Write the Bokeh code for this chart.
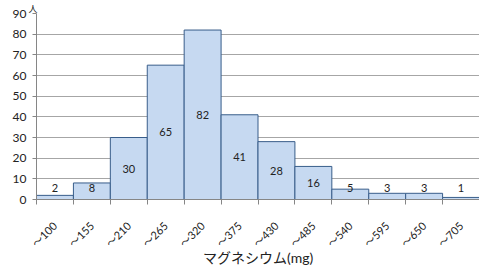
from bokeh.plotting import figure
from bokeh.models import FixedTicker, ColumnDataSource
from bokeh.core.properties import value
from bokeh.embed import file_html
from bokeh.resources import INLINE
import math

categories = ["～100", "～155", "～210", "～265", "～320", "～375", "～430", "～485", "～540", "～595", "～650", "～705"]
counts = [2, 8, 30, 65, 82, 41, 28, 16, 5, 3, 3, 1]
y_ticks = [0, 10, 20, 30, 40, 50, 60, 70, 80, 90]

FONT = "Lato, 'Noto Sans CJK JP'"

n = len(categories)
left = list(range(n))
right = [i + 1 for i in range(n)]
centers = [i + 0.5 for i in range(n)]
label_y = [max(v / 2.0, 5.5) for v in counts]

src = ColumnDataSource(dict(left=left, right=right, top=counts, bottom=[0] * n,
                            cx=centers, ly=label_y, txt=[str(v) for v in counts]))

p = figure(width=479, height=274, output_backend="svg", toolbar_location=None,
           x_range=(0, n), y_range=(0, 90), title="人",
           min_border_left=36, min_border_right=0, min_border_top=0, min_border_bottom=75)
p.outline_line_color = None
p.background_fill_color = "white"

p.title.align = "left"
p.title.offset = -8
p.title.standoff = 0
p.title.text_font = FONT
p.title.text_font_size = "9px"
p.title.text_font_style = "normal"
p.title.text_color = "#222222"

p.quad(left="left", right="right", top="top", bottom="bottom", source=src,
       fill_color="#c6d9f1", line_color="#385d8a", line_width=1)
p.text(x="cx", y="ly", text="txt", source=src, text_align="center", text_baseline="middle",
       text_font=value(FONT), text_font_size="11px", text_color="#222222")

# grid
p.xgrid.visible = False
p.ygrid.ticker = FixedTicker(ticks=y_ticks[1:])
p.ygrid.grid_line_color = "#a6a6a6"
p.ygrid.grid_line_width = 1

# y axis
p.yaxis.ticker = FixedTicker(ticks=y_ticks)
p.yaxis.axis_line_color = "#868686"
p.yaxis.major_tick_line_color = "#868686"
p.yaxis.major_tick_out = 4
p.yaxis.major_tick_in = 0
p.yaxis.minor_tick_line_color = None
p.yaxis.major_label_text_font = FONT
p.yaxis.major_label_text_font_size = "12px"
p.yaxis.major_label_text_color = "#222222"
p.yaxis.major_label_standoff = 6

# x axis
p.xaxis.ticker = FixedTicker(ticks=centers, minor_ticks=list(range(n + 1)))
p.xaxis.major_label_overrides = {c: lab for c, lab in zip(centers, categories)}
p.xaxis.major_tick_line_color = None
p.xaxis.major_tick_out = 0
p.xaxis.major_tick_in = 0
p.xaxis.minor_tick_line_color = "#868686"
p.xaxis.minor_tick_out = 5
p.xaxis.minor_tick_in = 0
p.xaxis.axis_line_color = "#868686"
p.xaxis.major_label_orientation = math.pi / 4
p.xaxis.major_label_text_font = FONT
p.xaxis.major_label_text_font_size = "11px"
p.xaxis.major_label_text_color = "#222222"
p.xaxis.major_label_standoff = 19
p.xaxis.axis_label = "マグネシウム(mg)"
p.xaxis.axis_label_text_font = FONT
p.xaxis.axis_label_text_font_size = "14px"
p.xaxis.axis_label_text_font_style = "normal"
p.xaxis.axis_label_text_color = "#222222"
p.xaxis.axis_label_standoff = -8

open("out.html", "w").write(file_html(p, INLINE))
